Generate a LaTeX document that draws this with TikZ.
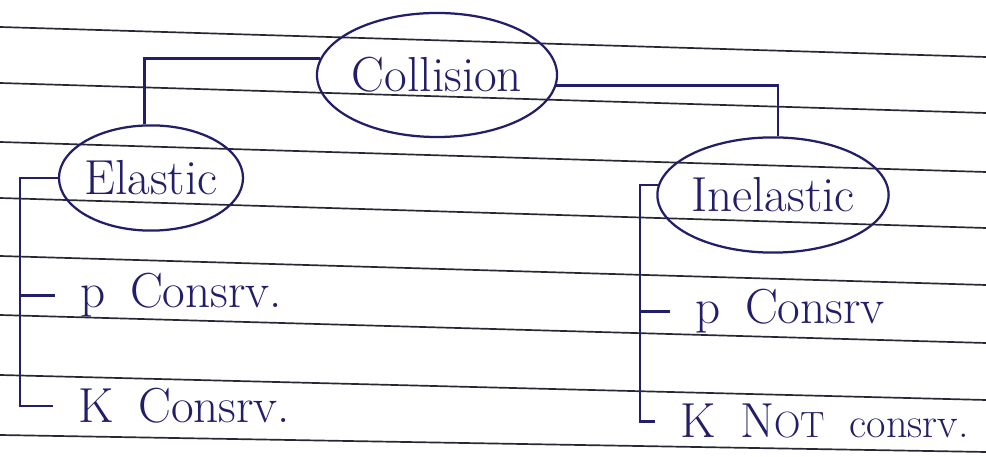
\documentclass[tikz,border=0pt]{standalone}
\usepackage{xcolor}
\usepackage{tikz}
\usetikzlibrary{positioning,shapes.geometric}
\definecolor{inkblue}{RGB}{35,30,105}
\definecolor{ruleline}{RGB}{40,40,50}
\tikzstyle{paperline}=[draw=ruleline,line width=1.2pt]
\tikzstyle{bubble}=[ellipse,draw=inkblue,line width=1.6pt,inner sep=0pt,text=inkblue,
                  font=\fontsize{35}{40}\selectfont]
\tikzstyle{item}=[inner sep=0pt,anchor=base west,text=inkblue,font=\fontsize{35}{40}\selectfont]
\tikzstyle{link}=[draw=inkblue,line width=1.6pt]
\tikzstyle{bracket}=[link,shorten >=18pt]

\begin{document}
\begin{tikzpicture}[x=0.025cm,y=-0.025cm]
      \useasboundingbox (0,0) rectangle (986,457);
      % ruled paper
      \foreach \yl/\yr in {27/57,83/113,142/172,198/228,256/285,315/343,375/400,435/452}
        \draw[paperline] (0,\yl) -- (986,\yr);

      \node[bubble,minimum width=6cm,minimum height=3.1cm] (coll) at (437,75) {\makebox[0pt]{Collision}};
      \node[bubble,minimum width=4.6cm,minimum height=2.63cm] (elas) at (151,178) {\makebox[0pt]{Elastic}};
      \node[bubble,minimum width=5.78cm,minimum height=2.88cm] (inel) at (773,195) {\makebox[0pt]{Inelastic}};

      \node[item] (pel) at (80,308) {p\enspace Consrv.};
      \node[item] (kel) at (78,423) {K\enspace Consrv.};
      \node[item] (pin) at (695,324) {p\enspace Consrv};
      \node[item] (kin) at (680,438) {K\enspace N{\fontsize{26}{30}\selectfont OT}\enspace {\fontsize{30}{34}\selectfont consrv.}};

      \coordinate (elbar) at (20,0);
      \coordinate (inbar) at (640,0);

      \draw[link] (coll.172) -| (elas.97);
      \draw[link] (coll.355) -| (inel.85);
      \draw[bracket] (elas.west) -| (elbar |- kel.west) -- (kel.west);
      \draw[bracket] (elbar |- pel.west) -- (pel.west);
      \draw[bracket] (inel.175) -| (inbar |- kin.west) -- (kin.west);
      \draw[bracket] (inbar |- pin.west) -- (pin.west);
    \end{tikzpicture}
\end{document}
